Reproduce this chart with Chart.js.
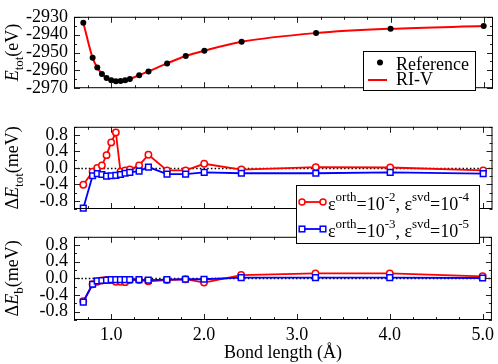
<!DOCTYPE html>
<html><head><meta charset="utf-8">
<script src="https://cdn.jsdelivr.net/npm/chart.js@4.4.0/dist/chart.umd.min.js"></script>
<style>
html,body{margin:0;padding:0;background:#fff;}
body{width:498px;height:364px;position:relative;overflow:hidden;}
canvas{position:absolute;left:0;}
#c1{top:0;z-index:2}
#c2{top:110px;z-index:3}
#c3{top:220px;z-index:1}
</style></head><body>
<canvas id="c1" width="498" height="105"></canvas>
<canvas id="c2" width="498" height="140"></canvas>
<canvas id="c3" width="498" height="144"></canvas>
<script>
// ---------------- data ----------------
const bondLength = [0.7,0.8,0.85,0.9,0.95,1.0,1.05,1.1,1.15,1.2,1.3,1.4,1.6,1.8,2.0,2.4,3.2,4.0,5.0];
const eTotReference = [-2933.3,-2953.0,-2958.4,-2962.0,-2964.3,-2965.5,-2966.1,-2966.0,-2965.5,-2964.8,-2962.7,-2960.6,-2956.1,-2952.0,-2949.0,-2944.0,-2939.1,-2936.7,-2935.2];
const eTotRIV = [-2933.3,-2953.0,-2958.4,-2962.0,-2964.3,-2965.5,-2966.1,-2966.0,-2965.5,-2964.8,-2962.7,-2960.6,-2956.1,-2952.0,-2949.0,-2944.0,-2939.1,-2936.7,-2935.2];
const dEtotOrth2 = [-0.41,-0.09,0.00,0.06,0.31,0.62,0.86,-0.09,-0.06,-0.04,0.06,0.32,-0.06,-0.06,0.10,-0.04,0.02,0.01,-0.06];
const dEtotOrth3 = [-0.98,-0.19,-0.14,-0.16,-0.20,-0.19,-0.18,-0.16,-0.13,-0.11,-0.08,0.02,-0.15,-0.15,-0.11,-0.13,-0.13,-0.11,-0.14];
const dEbOrth2 = [-0.55,-0.14,-0.08,-0.05,-0.04,-0.04,-0.08,-0.08,-0.09,-0.04,-0.04,-0.07,-0.04,-0.02,-0.10,0.08,0.12,0.12,0.05];
const dEbOrth3 = [-0.57,-0.14,-0.06,-0.05,-0.04,-0.03,-0.03,-0.03,-0.03,-0.03,-0.03,-0.04,-0.03,-0.02,-0.02,0.02,0.02,0.02,0.01];
const xTickValues = [1,2,3,4,5];
const eTotTickValues = [-2970,-2960,-2950,-2940,-2930];
const deltaTickValues = [-0.8,-0.4,0,0.4,0.8];

const FONT = '"Liberation Serif","Times New Roman",serif';
const RED = '#ff0000', BLUE = '#0000ff';

function pts(ys){ return bondLength.map((x,i)=>({x:x,y:ys[i]})); }

function drawRich(ctx, segs, x, y, align){
  const parts = segs.map(s=>{
    const size = (s.sub||s.sup) ? 13 : 18;
    const font = (s.i?'italic ':'') + size + 'px ' + FONT;
    ctx.font = font;
    return {t:s.t, font:font, w:ctx.measureText(s.t).width, dy: s.sub?5:(s.sup?-9:0)};
  });
  const total = parts.reduce((a,p)=>a+p.w,0);
  let cx = align==='center' ? x-total/2 : x;
  ctx.textBaseline='alphabetic'; ctx.textAlign='left'; ctx.fillStyle='#000';
  for(const p of parts){ ctx.font=p.font; ctx.fillText(p.t,cx,y+p.dy); cx+=p.w; }
}

function framePlugin(cfg){
  return {
    id:'frame',
    beforeDatasetsDraw(chart){
      if(!cfg.zero) return;
      const ctx=chart.ctx, a=chart.chartArea;
      const y=Math.round(chart.scales.y.getPixelForValue(0))+0.5;
      ctx.save(); ctx.strokeStyle='#000'; ctx.lineWidth=1.3; ctx.setLineDash([1.5,2.2]);
      ctx.beginPath(); ctx.moveTo(a.left,y); ctx.lineTo(a.right,y); ctx.stroke(); ctx.restore();
    },
    afterDatasetsDraw(chart){
      const ctx=chart.ctx, a=chart.chartArea, xs=chart.scales.x, ys=chart.scales.y;
      ctx.save(); ctx.strokeStyle='#222'; ctx.lineWidth=1;
      ctx.beginPath();
      const xStart=0.75, xStep=0.25;
      for(let i=0;;i++){
        const v=xStart+i*xStep; if(v>xs.max+1e-9) break;
        const major=xTickValues.some(m=>Math.abs(m-v)<1e-6);
        const len=major?6:3;
        const px=Math.round(xs.getPixelForValue(v))+0.5;
        ctx.moveTo(px,a.bottom); ctx.lineTo(px,a.bottom-len);
        ctx.moveTo(px,a.top); ctx.lineTo(px,a.top+len);
      }
      for(let i=0;;i++){
        const v=ys.min+i*cfg.yMinor; if(v>ys.max+1e-9) break;
        const major=cfg.yMajor.some(m=>Math.abs(m-v)<1e-6);
        const len=major?6:3;
        const py=Math.round(ys.getPixelForValue(v))+0.5;
        ctx.moveTo(a.left,py); ctx.lineTo(a.left+len,py);
        ctx.moveTo(a.right,py); ctx.lineTo(a.right-len,py);
      }
      ctx.stroke();
      ctx.strokeStyle='#000';
      ctx.strokeRect(a.left+0.5,a.top+0.5,a.right-a.left-1,a.bottom-a.top-1);
      ctx.restore();
    },
    afterDraw(chart){
      const ctx=chart.ctx, a=chart.chartArea;
      ctx.save();
      ctx.translate(18,(a.top+a.bottom)/2); ctx.rotate(-Math.PI/2);
      drawRich(ctx,cfg.title,0,0,'center');
      ctx.restore();
      if(cfg.legend) cfg.legend(ctx);
    }
  };
}

function opts(c){
  return {
    responsive:false, animation:false, devicePixelRatio:1, events:[],
    plugins:{legend:{display:false}, tooltip:{enabled:false}},
    layout:{padding:{left:0,right:5,top:c.padTop,bottom:c.padBottom}},
    scales:{
      x:{type:'linear', min:0.6, max:5.1, display:c.showX,
        afterBuildTicks:s=>{s.ticks=xTickValues.map(v=>({value:v}));},
        afterFit:s=>{ if(c.showX) s.height=44; },
        grid:{display:false,drawTicks:false}, border:{display:false},
        ticks:{autoSkip:false,maxRotation:0,padding:4,color:'#000',font:{family:FONT,size:18},callback:v=>Number(v).toFixed(1)},
        title:{display:c.showX,text:'Bond length (Å)',color:'#000',font:{family:FONT,size:18},padding:0}
      },
      y:{type:'linear', min:c.yMin, max:c.yMax,
        afterBuildTicks:s=>{s.ticks=c.yTicks.map(v=>({value:v}));},
        afterFit:s=>{s.width=74;},
        grid:{display:false,drawTicks:false}, border:{display:false},
        ticks:{autoSkip:false,padding:6,color:'#000',font:{family:FONT,size:18},callback:c.fmt}
      }
    }
  };
}

// -------- panel 1 --------
new Chart(document.getElementById('c1'),{
  type:'line',
  data:{datasets:[
    {label:'Reference',data:pts(eTotReference),showLine:false,pointRadius:3,pointBackgroundColor:'#000',pointBorderColor:'#000',pointBorderWidth:0,clip:false},
    {label:'RI-V',data:pts(eTotRIV),borderColor:RED,borderWidth:2,pointRadius:0,cubicInterpolationMode:'monotone',fill:false,clip:false}
  ]},
  options:opts({padTop:7,padBottom:6,showX:false,yMin:-2970,yMax:-2930,yTicks:eTotTickValues,fmt:v=>String(v)}),
  plugins:[framePlugin({zero:false,yMinor:5,yMajor:eTotTickValues,
    title:[{t:'E',i:true},{t:'tot',sub:true},{t:'(eV)'}],
    legend:ctx=>{
      ctx.save();
      ctx.fillStyle='#fff'; ctx.fillRect(363.5,51.5,112,39);
      ctx.strokeStyle='#000'; ctx.lineWidth=1; ctx.strokeRect(363.5,51.5,112,39);
      ctx.fillStyle='#000'; ctx.beginPath(); ctx.arc(380,62.5,3,0,Math.PI*2); ctx.fill();
      ctx.strokeStyle=RED; ctx.lineWidth=2; ctx.beginPath(); ctx.moveTo(368,80); ctx.lineTo(387,80); ctx.stroke();
      drawRich(ctx,[{t:'Reference'}],396,69.5,'left');
      drawRich(ctx,[{t:'RI-V'}],396,85,'left');
      ctx.restore();
    }})]
});

// -------- panel 2 --------
function eps(o,s){ return [{t:'ε'},{t:'orth',sup:true},{t:'=10'},{t:o,sup:true},{t:', ε'},{t:'svd',sup:true},{t:'=10'},{t:s,sup:true}]; }
new Chart(document.getElementById('c2'),{
  type:'line',
  data:{datasets:[
    {label:'orth3',data:pts(dEtotOrth3),borderColor:BLUE,borderWidth:1.8,pointStyle:'rect',pointRadius:4,pointBorderWidth:1.5,pointBorderColor:BLUE,pointBackgroundColor:'#fff',clip:false},
    {label:'orth2',data:pts(dEtotOrth2),borderColor:RED,borderWidth:1.8,pointStyle:'circle',pointRadius:3.2,pointBorderWidth:1.5,pointBorderColor:RED,pointBackgroundColor:'#fff',clip:false}
  ]},
  options:opts({padTop:8,padBottom:41,showX:false,yMin:-1,yMax:1,yTicks:deltaTickValues,fmt:v=>Number(v).toFixed(1)}),
  plugins:[framePlugin({zero:true,yMinor:0.2,yMajor:deltaTickValues,
    title:[{t:'Δ'},{t:'E',i:true},{t:'tot',sub:true},{t:'(meV)'}],
    legend:ctx=>{
      ctx.save();
      ctx.fillStyle='#fff'; ctx.fillRect(296.5,75.5,183,58);
      ctx.strokeStyle='#000'; ctx.lineWidth=1; ctx.strokeRect(296.5,75.5,183,58);
      ctx.strokeStyle=RED; ctx.lineWidth=1.8; ctx.beginPath(); ctx.moveTo(302,92); ctx.lineTo(323,92); ctx.stroke();
      ctx.lineWidth=1.5; ctx.fillStyle='#fff';
      for(const x of [302,323]){ ctx.beginPath(); ctx.arc(x,92,3,0,Math.PI*2); ctx.fill(); ctx.stroke(); }
      ctx.strokeStyle=BLUE; ctx.lineWidth=1.8; ctx.beginPath(); ctx.moveTo(302,119); ctx.lineTo(323,119); ctx.stroke();
      ctx.lineWidth=1.5;
      for(const x of [302,323]){ ctx.fillRect(x-2.8,116.2,5.6,5.6); ctx.strokeRect(x-2.8,116.2,5.6,5.6); }
      drawRich(ctx,eps('-2','-4'),328,100,'left');
      drawRich(ctx,eps('-3','-5'),328,127,'left');
      ctx.restore();
    }})]
});

// -------- panel 3 --------
new Chart(document.getElementById('c3'),{
  type:'line',
  data:{datasets:[
    {label:'orth3',data:pts(dEbOrth3),borderColor:BLUE,borderWidth:1.8,pointStyle:'rect',pointRadius:4,pointBorderWidth:1.5,pointBorderColor:BLUE,pointBackgroundColor:'#fff',clip:false},
    {label:'orth2',data:pts(dEbOrth2),borderColor:RED,borderWidth:1.8,pointStyle:'circle',pointRadius:3.2,pointBorderWidth:1.5,pointBorderColor:RED,pointBackgroundColor:'#fff',clip:false}
  ]},
  options:opts({padTop:8,padBottom:0,showX:true,yMin:-1,yMax:1,yTicks:deltaTickValues,fmt:v=>Number(v).toFixed(1)}),
  plugins:[framePlugin({zero:true,yMinor:0.2,yMajor:deltaTickValues,
    title:[{t:'Δ'},{t:'E',i:true},{t:'b',sub:true},{t:'(meV)'}]})]
});
</script>
</body></html>
